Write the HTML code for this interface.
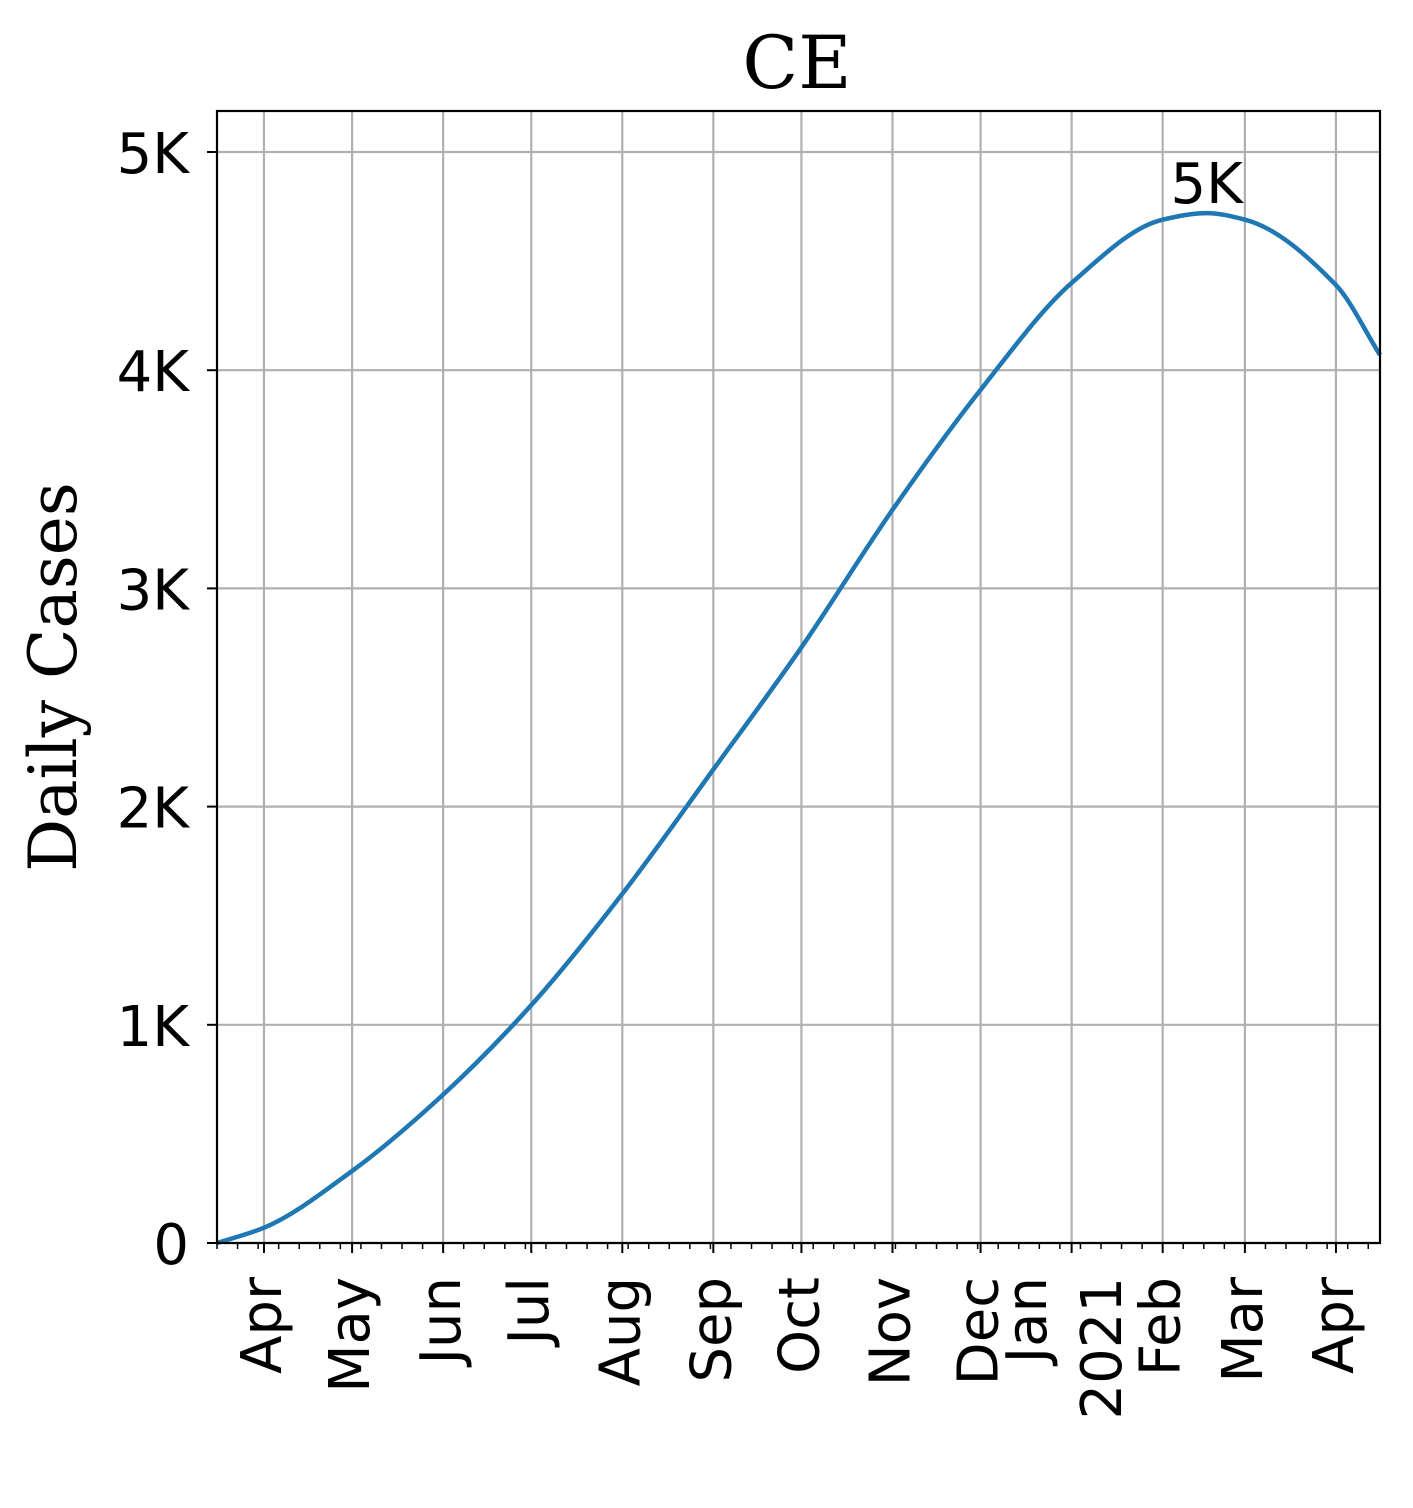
<!DOCTYPE html>
<html><head><meta charset="utf-8"><style>
html,body{margin:0;padding:0;background:#fff}
svg{display:block}
</style></head><body>
<svg id="chart" width="1413" height="1508" xmlns="http://www.w3.org/2000/svg">
<rect width="1413" height="1508" fill="#fff"/>
<text x="797" y="88" font-family="DejaVu Serif, serif" font-size="73" text-anchor="middle">CE</text>
<text transform="translate(76,677) rotate(-90)" font-family="DejaVu Serif, serif" font-size="66" text-anchor="middle">Daily Cases</text>
<g id="grid"></g>
<g id="series"></g>
<g id="axes"></g>
</svg>
<script>
const dates = ["2020-03-16","2020-04-01","2020-05-01","2020-06-01","2020-07-01","2020-08-01","2020-09-01","2020-10-01","2020-11-01","2020-12-01","2021-01-01","2021-02-01","2021-02-16","2021-03-01","2021-04-01","2021-04-16"];
const cases = [0,70,330,680,1090,1600,2170,2730,3360,3910,4400,4690,4720,4690,4390,4070];
const yTicks = [0,1000,2000,3000,4000,5000];
const yTickLabels = ["0","1K","2K","3K","4K","5K"];
const monthTicks = ["2020-04-01","2020-05-01","2020-06-01","2020-07-01","2020-08-01","2020-09-01","2020-10-01","2020-11-01","2020-12-01","2021-01-01","2021-02-01","2021-03-01","2021-04-01"];
const monthLabels = ["Apr","May","Jun","Jul","Aug","Sep","Oct","Nov","Dec","Jan","Feb","Mar","Apr"];
const peakLabel = "5K";

const NS="http://www.w3.org/2000/svg";
const L=217,R=1380,T=111,B=1243;
const d0=Date.UTC(2020,2,16), d1=Date.UTC(2021,3,16);
function toMs(s){const p=s.split("-");return Date.UTC(+p[0],+p[1]-1,+p[2]);}
function xs(s){return L+(toMs(s)-d0)/(d1-d0)*(R-L);}
function ys(v){return B-v/1000*218.2;}
function mk(tag,attrs,parent){const e=document.createElementNS(NS,tag);for(const k in attrs)e.setAttribute(k,attrs[k]);parent.appendChild(e);return e;}
const grid=document.getElementById("grid"),axes=document.getElementById("axes"),series=document.getElementById("series");
const FONT="DejaVu Sans, sans-serif";
const FS=56;

yTicks.forEach((v,i)=>{
  const y=ys(v);
  const g=mk("line",{x1:L,x2:R,y1:y,y2:y,stroke:"#b0b0b0","stroke-width":2.2},grid);
  
  
  mk("line",{x1:L-10,x2:L,y1:y,y2:y,stroke:"#000","stroke-width":2},axes);
  const t=mk("text",{x:L-28,y:y+21,"font-family":FONT,"font-size":FS,"text-anchor":"end"},axes);
  t.textContent=yTickLabels[i];
  
  
});
for(let ms=d0;ms<=d1;ms+=7*86400000){
  const x=L+(ms-d0)/(d1-d0)*(R-L);
  mk("line",{x1:x,x2:x,y1:B,y2:B+6,stroke:"#000","stroke-width":1.5},axes);
}
const labelX={9:1029};
monthTicks.forEach((m,i)=>{
  const x=xs(m);
  const g=mk("line",{x1:x,x2:x,y1:T,y2:B,stroke:"#b0b0b0","stroke-width":2.2},grid);
  
  
  mk("line",{x1:x,x2:x,y1:B,y2:B+10,stroke:"#000","stroke-width":2},axes);
  const lx=labelX[i]!==undefined?labelX[i]:x;
  const t=mk("text",{transform:`translate(${lx+17},${B+34}) rotate(-90)`,"font-family":FONT,"font-size":FS,"text-anchor":"end"},axes);
  t.textContent=monthLabels[i];
  
  
});
const yr=mk("text",{transform:`translate(${1121},${B+34}) rotate(-90)`,"font-family":FONT,"font-size":FS,"text-anchor":"end"},axes);
yr.textContent="2021";



const frame=mk("rect",{x:L,y:T,width:R-L,height:B-T,fill:"none",stroke:"#000","stroke-width":2.2},axes);



const pts=dates.map((d,i)=>[xs(d),ys(cases[i])]);
const n=pts.length, dl=[], m=[];
for(let i=0;i<n-1;i++) dl.push((pts[i+1][1]-pts[i][1])/(pts[i+1][0]-pts[i][0]));
m[0]=dl[0]; m[n-1]=dl[n-2];
for(let i=1;i<n-1;i++){
  if(dl[i-1]*dl[i]<=0) m[i]=0;
  else { const h0=pts[i][0]-pts[i-1][0], h1=pts[i+1][0]-pts[i][0];
    m[i]=(h0+h1)*3/((2*h1+h0)/dl[i-1]+(h1+2*h0)/dl[i]); }
}
let dstr=`M${pts[0][0]},${pts[0][1]}`;
for(let i=0;i<n-1;i++){
  const h=(pts[i+1][0]-pts[i][0])/3;
  dstr+=` C${pts[i][0]+h},${pts[i][1]+m[i]*h} ${pts[i+1][0]-h},${pts[i+1][1]-m[i+1]*h} ${pts[i+1][0]},${pts[i+1][1]}`;
}
const line=mk("path",{d:dstr,fill:"none",stroke:"#1f77b4","stroke-width":4.5},series);



let pi=0;cases.forEach((v,i)=>{if(v>cases[pi])pi=i;});
const pl=mk("text",{x:xs(dates[pi]),y:ys(cases[pi])-10,"font-family":FONT,"font-size":FS,"text-anchor":"middle"},series);
pl.textContent=peakLabel;


</script>
</body></html>
